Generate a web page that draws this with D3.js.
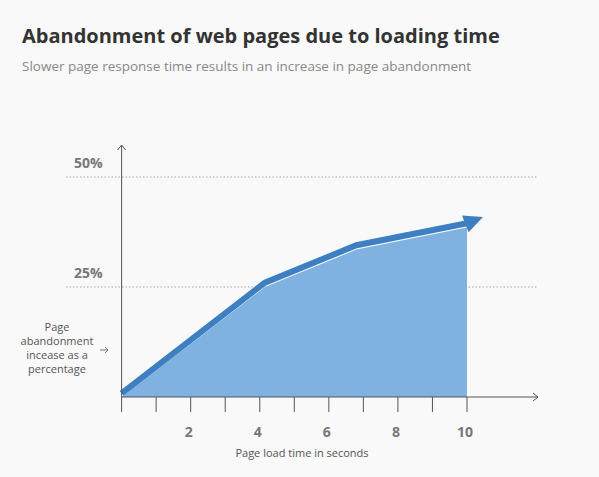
<!DOCTYPE html><html><head><meta charset="utf-8"><script src="https://cdn.jsdelivr.net/npm/d3@7"></script>
<style>body{margin:0;background:#f9f9f9}</style></head><body><svg id="c" width="599" height="477"></svg>
<script>
const xs=[0,4.15,6.8,10];
const ys=[0.8,26,34.5,39.5];
const yTicks=[25,50];
const xTicks=[2,4,6,8,10];
const title="Abandonment of web pages due to loading time";
const subtitle="Slower page response time results in an increase in page abandonment";
const svg=d3.select("#c");
svg.append("rect").attr("width",599).attr("height",477).attr("fill","#f9f9f9");
const x=d3.scaleLinear().domain([0,10]).range([121.6,467]);
const y=d3.scaleLinear().domain([0,25]).range([397,287]);
const F="'Open Sans',sans-serif";
svg.append("text").attr("x",22).attr("y",43).text(title).attr("font-family",F).attr("font-weight","bold").attr("font-size",20).attr("fill","#333");
svg.append("text").attr("x",22).attr("y",71).text(subtitle).attr("font-family",F).attr("font-size",13.5).attr("fill","#888");
yTicks.forEach(t=>{
 svg.append("line").attr("x1",66).attr("x2",537).attr("y1",y(t)).attr("y2",y(t)).attr("stroke","#aaa").attr("stroke-dasharray","1.5,2");
 svg.append("text").attr("x",74).attr("y",y(t)-9).text(t+"%").attr("font-family",F).attr("font-weight","bold").attr("font-size",14).attr("fill","#777");
});
const data=xs.map((d,i)=>[d,ys[i]]);
svg.append("path").attr("d",d3.area().x(d=>x(d[0])).y0(y(0)).y1(d=>y(d[1])-0)(data.map((d,i)=>[d[0],i==0?0:d[1]-1]))).attr("fill","#7fb2e0");
svg.append("path").attr("d",d3.line().x(d=>x(d[0])).y(d=>y(d[1]))(data)).attr("fill","none").attr("stroke","#3d7fc0").attr("stroke-width",6);
// arrow head
const x1=x(10),y1=y(39.5),ang=Math.atan2(y(40.5)-y1,x(10.5)-x1);
const tip=[483,217];const a=Math.atan2(tip[1]-y1,tip[0]-x1);
const p=(r,t)=>[tip[0]-r*Math.cos(a)+t*Math.sin(a),tip[1]-r*Math.sin(a)-t*Math.cos(a)];
svg.append("path").attr("d","M"+[tip,p(19,9),p(19,-9)].join("L")+"Z").attr("fill","#3d7fc0");
// axes
const g="#555";
svg.append("line").attr("x1",x(0)).attr("x2",x(0)).attr("y1",145).attr("y2",412).attr("stroke",g);
svg.append("path").attr("d",`M${x(0)-4},150L${x(0)},145L${x(0)+4},150`).attr("fill","none").attr("stroke",g);
svg.append("line").attr("x1",x(0)).attr("x2",538).attr("y1",y(0)).attr("y2",y(0)).attr("stroke",g);
svg.append("path").attr("d",`M533,${y(0)-4}L538,${y(0)}L533,${y(0)+4}`).attr("fill","none").attr("stroke",g);
d3.range(1,11).forEach(t=>svg.append("line").attr("x1",x(t)).attr("x2",x(t)).attr("y1",y(0)).attr("y2",y(0)+15).attr("stroke",g));
xTicks.forEach(t=>svg.append("text").attr("x",x(t)-2).attr("y",437).attr("text-anchor","middle").text(t).attr("font-family",F).attr("font-weight","bold").attr("font-size",14).attr("fill","#777"));
svg.append("text").attr("x",302).attr("y",457).attr("text-anchor","middle").text("Page load time in seconds").attr("font-family",F).attr("font-size",11).attr("fill","#555");
["Page","abandonment","incease as a","percentage"].forEach((s,i)=>svg.append("text").attr("x",57).attr("y",331+i*14).attr("text-anchor","middle").text(s).attr("font-family",F).attr("font-size",11).attr("fill","#555"));
svg.append("path").attr("d","M100,350H108M105,347L108,350L105,353").attr("fill","none").attr("stroke",g).attr("stroke-width",0.8);
</script></body></html>
